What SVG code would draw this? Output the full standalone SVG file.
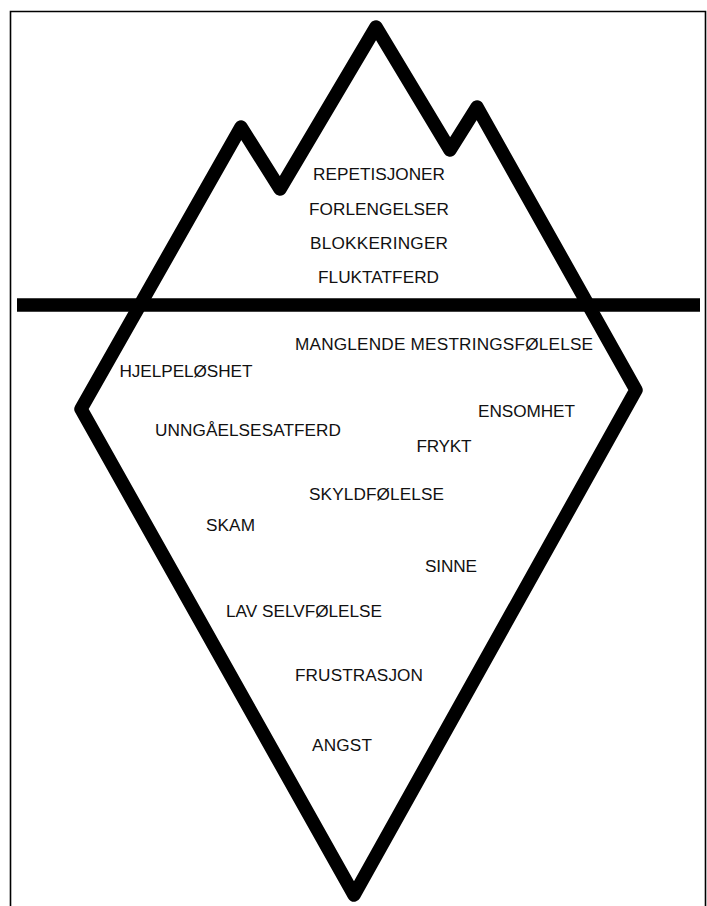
<svg xmlns="http://www.w3.org/2000/svg" width="707" height="906" viewBox="0 0 707 906">
<style>
.ice{fill:none;stroke:#000;stroke-width:13.5;stroke-linejoin:round;stroke-linecap:round}
.frame{fill:none;stroke:#000;stroke-width:1.6}
text{font-family:"Liberation Sans",Arial,sans-serif;font-size:17.2px;fill:#111}
.c{text-anchor:middle}
</style>
<rect width="707" height="906" fill="#fff"/>
<path class="frame" d="M10.5,915 V11.5 H705.5 V915"/>
<g id="iceberg">
<path class="ice" d="M241,127 L280,189 L376,27 L450,150 L477,107 L636,390 L354,895 L81,409 Z"/>
</g>
<g id="connectors">
<line x1="17" y1="305" x2="700" y2="305" stroke="#000" stroke-width="13.5"/>
</g>
<g id="above">
<text class="c" x="379" y="180" textLength="132">REPETISJONER</text>
<text class="c" x="379" y="215" textLength="140">FORLENGELSER</text>
<text class="c" x="379" y="249" textLength="138">BLOKKERINGER</text>
<text class="c" x="378.5" y="283" textLength="121">FLUKTATFERD</text>
</g>
<g id="below">
<text x="295" y="350" textLength="298">MANGLENDE MESTRINGSFØLELSE</text>
<text x="119.5" y="377" textLength="133">HJELPELØSHET</text>
<text x="478" y="417" textLength="97">ENSOMHET</text>
<text x="155" y="436" textLength="186">UNNGÅELSESATFERD</text>
<text x="416.5" y="452" textLength="55">FRYKT</text>
<text x="309" y="500" textLength="135">SKYLDFØLELSE</text>
<text x="206" y="531" textLength="49">SKAM</text>
<text x="425" y="572" textLength="52">SINNE</text>
<text x="226" y="617" textLength="156">LAV SELVFØLELSE</text>
<text x="295" y="681" textLength="128">FRUSTRASJON</text>
<text x="312" y="751" textLength="60">ANGST</text>
</g>
</svg>
